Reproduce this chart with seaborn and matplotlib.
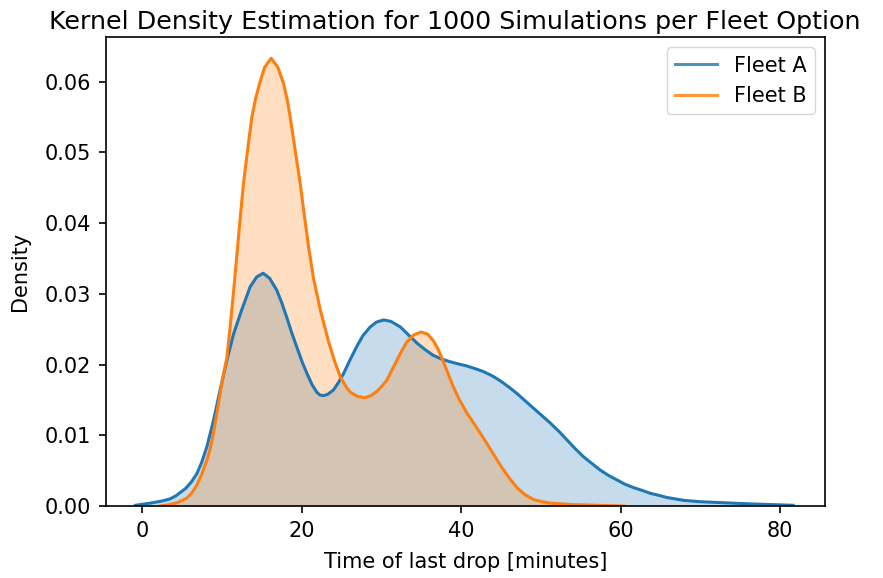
import numpy as np
import pandas as pd
import matplotlib
matplotlib.use("Agg")
import matplotlib.pyplot as plt
import seaborn as sns

# Density curves (minutes, density)
fleet_a_x = [-0.8, 1.0, 2.5, 3.5, 4.2, 4.8, 5.5, 6.2, 6.9, 7.5, 8.15, 8.97,
             9.8, 10.65, 11.48, 12.5, 13.57, 14.4, 15.2, 16.0, 16.9, 17.5,
             18.2, 18.8, 19.4, 20.1, 20.7, 21.3, 21.9, 22.3, 22.76, 23.3, 24.0,
             24.6, 25.26, 26.1, 26.9, 27.7, 28.6, 29.4, 30.3, 31.2, 32.4, 33.4,
             34.5, 35.5, 36.5, 37.5, 38.6, 39.6, 40.7, 41.8, 42.8, 43.9, 44.9,
             46.0, 47.0, 48.0, 49.0, 50.1, 51.2, 52.3, 53.3, 54.3, 55.3, 56.4,
             57.4, 58.5, 59.5, 60.5, 61.6, 62.7, 63.7, 64.8, 65.8, 67.9, 70.0,
             72.1, 76.2, 81.6]
fleet_a_y = [0.0001, 0.0004, 0.0007, 0.0010, 0.0014, 0.0019, 0.0025, 0.0034,
             0.0046, 0.0062, 0.0084, 0.0121, 0.0164, 0.0206, 0.0243, 0.0277,
             0.0310, 0.0324, 0.0329, 0.0322, 0.0305, 0.0288, 0.0265, 0.0244,
             0.0225, 0.0203, 0.0187, 0.0172, 0.0161, 0.0157, 0.0156, 0.0158,
             0.0164, 0.0174, 0.0187, 0.0207, 0.0225, 0.0241, 0.0253, 0.0260,
             0.0263, 0.0261, 0.0253, 0.0242, 0.0230, 0.0221, 0.0213, 0.0208,
             0.0204, 0.0201, 0.0198, 0.0194, 0.0190, 0.0184, 0.0177, 0.0168,
             0.0159, 0.0149, 0.0139, 0.0128, 0.0117, 0.0105, 0.0093, 0.0081,
             0.0070, 0.0060, 0.0051, 0.0043, 0.0037, 0.0031, 0.0026, 0.0022,
             0.0018, 0.0015, 0.0012, 0.0008, 0.0006, 0.0005, 0.0003, 0.0001]

fleet_b_x = [2.3, 3.5, 4.5, 5.6, 6.3, 6.9, 7.5, 8.15, 8.6, 9.0, 9.6, 10.2,
             10.65, 11.1, 11.5, 11.9, 12.3, 12.73, 13.24, 13.78, 14.25, 14.74,
             15.37, 16.2, 17.04, 17.75, 18.2, 18.58, 19.2, 19.84, 20.34, 20.9,
             21.5, 22.34, 23.4, 24.2, 24.85, 25.5, 26.1, 27.0, 27.9, 28.7,
             29.45, 30.1, 30.7, 31.5, 32.4, 33.2, 34.1, 35.0, 35.8, 36.5, 37.1,
             37.6, 38.3, 39.0, 39.8, 40.7, 41.7, 42.8, 43.8, 44.9, 46.0, 47.0,
             48.0, 49.1, 50.2, 51.2, 54.0, 57.0, 60.4]
fleet_b_y = [0.0000, 0.0002, 0.0005, 0.0011, 0.0019, 0.0030, 0.0045, 0.0065,
             0.0083, 0.0105, 0.0145, 0.0185, 0.0210, 0.0258, 0.0305, 0.0355,
             0.0405, 0.0456, 0.0503, 0.0550, 0.0576, 0.0597, 0.0620, 0.0633,
             0.0620, 0.0597, 0.0575, 0.0550, 0.0503, 0.0456, 0.0412, 0.0365,
             0.0322, 0.0278, 0.0232, 0.0203, 0.0183, 0.0170, 0.0161, 0.0155,
             0.0153, 0.0156, 0.0162, 0.0170, 0.0178, 0.0196, 0.0216, 0.0232,
             0.0242, 0.0246, 0.0243, 0.0234, 0.0222, 0.0209, 0.0189, 0.0169,
             0.0150, 0.0132, 0.0115, 0.0096, 0.0078, 0.0058, 0.0040, 0.0026,
             0.0016, 0.0009, 0.0006, 0.0004, 0.0002, 0.0001, 0.0000]

df_a = pd.DataFrame({"time": fleet_a_x, "density": fleet_a_y})
df_b = pd.DataFrame({"time": fleet_b_x, "density": fleet_b_y})

fig = plt.figure(figsize=(8.83, 5.78), dpi=100)
ax = fig.add_axes([106 / 883, 1 - 506 / 578, (825 - 106) / 883, (506 - 37) / 578])

for df, color, label in [(df_a, "tab:blue", "Fleet A"), (df_b, "tab:orange", "Fleet B")]:
    sns.lineplot(data=df, x="time", y="density", color=color, lw=2.2, label=label, ax=ax)
    ax.fill_between(df["time"], df["density"], color=color, alpha=0.25, lw=0)

ax.set_xlim(-4.5, 85.6)
ax.set_ylim(0, 0.0663)
ax.set_xticks([0, 20, 40, 60, 80])
ax.set_yticks(np.arange(0, 0.061, 0.01))
ax.yaxis.set_major_formatter(matplotlib.ticker.FormatStrFormatter("%.2f"))
ax.tick_params(labelsize=15, length=5, width=1.2, pad=6)
for s in ax.spines.values():
    s.set_linewidth(1.2)

ax.set_title("Kernel Density Estimation for 1000 Simulations per Fleet Option",
             fontsize=18.3, x=0.485)
ax.set_xlabel("Time of last drop [minutes]", fontsize=15, labelpad=8)
ax.set_ylabel("Density", fontsize=15, labelpad=10)
leg = ax.legend(loc="upper right", fontsize=15)
for h in leg.get_lines():
    h.set_alpha(0.8)

fig.savefig("out.png", dpi=100)
